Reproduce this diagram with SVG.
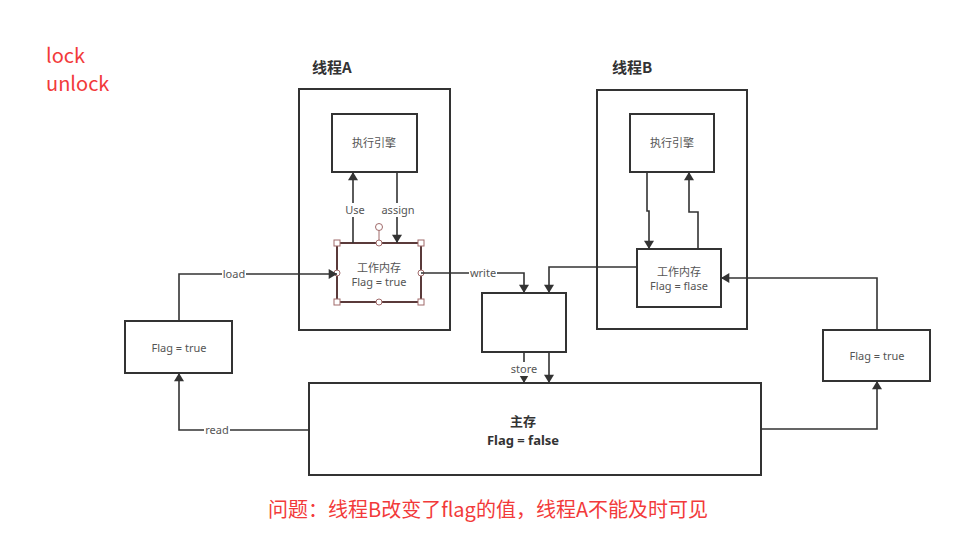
<svg xmlns="http://www.w3.org/2000/svg" width="980" height="552" viewBox="0 0 980 552">
<defs>
<marker id="ah" viewBox="0 0 10 12" refX="10" refY="6" markerWidth="11" markerHeight="10" markerUnits="userSpaceOnUse" orient="auto">
<path d="M0,0 L10,6 L0,12 z" fill="#333"/>
</marker>
</defs>
<style>
.box{fill:#fff;stroke:#333;stroke-width:2}
.ln{fill:none;stroke:#333;stroke-width:1.6}
.arr{fill:none;stroke:#333;stroke-width:1.6;marker-end:url(#ah)}
.t{font-family:"Noto Sans CJK SC","Noto Sans",sans-serif;font-size:11px;fill:#555;text-anchor:middle}
.lbl{font-family:"Noto Sans","Noto Sans CJK SC",sans-serif;font-size:11px;fill:#555;text-anchor:middle}
.title{font-family:"Noto Sans CJK SC",sans-serif;font-size:15px;font-weight:bold;fill:#333}
.red{font-family:"Noto Sans CJK SC",sans-serif;fill:#f23a3a}
.h{fill:#fff;stroke:#a06a6a;stroke-width:1}
</style>
<rect width="980" height="552" fill="#fff"/>
<text class="red" x="46" y="63" font-size="20">lock</text>
<text class="red" x="46" y="91" font-size="20">unlock</text>

<g id="threadA">
<text class="title" x="312" y="73">线程A</text>
<rect class="box" x="299" y="89" width="151" height="241"/>
</g>
<g id="engineA">
<rect class="box" x="332" y="114" width="85" height="58"/>
<text class="t" x="374" y="147">执行引擎</text>
</g>
<g id="wmA">
<rect x="337" y="243" width="84" height="59" fill="#fff" stroke="#5a3a3a" stroke-width="2"/>
<text class="t" x="379" y="272">工作内存</text>
<text class="lbl" x="379" y="286">Flag = true</text>
<line x1="379" y1="243" x2="379" y2="230" stroke="#a06a6a" stroke-width="1"/>
<circle class="h" cx="379" cy="227" r="3.5"/>
<rect class="h" x="334" y="240" width="6" height="6"/>
<rect class="h" x="418" y="240" width="6" height="6"/>
<rect class="h" x="334" y="299" width="6" height="6"/>
<rect class="h" x="418" y="299" width="6" height="6"/>
<circle class="h" cx="379" cy="243" r="3"/>
<circle class="h" cx="379" cy="302" r="3"/>
<circle class="h" cx="337" cy="273" r="3"/>
<circle class="h" cx="421" cy="273" r="3"/>
</g>

<g id="threadB">
<text class="title" x="612" y="73">线程B</text>
<rect class="box" x="597" y="90" width="150" height="239"/>
</g>
<g id="engineB">
<rect class="box" x="630" y="114" width="84" height="58"/>
<text class="t" x="672" y="147">执行引擎</text>
</g>
<g id="wmB">
<rect class="box" x="637" y="249" width="84" height="58"/>
<text class="t" x="679" y="276">工作内存</text>
<text class="lbl" x="679" y="290">Flag = flase</text>
</g>

<g id="flagLeft">
<rect class="box" x="125" y="321" width="107" height="52"/>
<text class="lbl" x="179" y="352">Flag = true</text>
</g>
<g id="flagRight">
<rect class="box" x="823" y="330" width="107" height="51"/>
<text class="lbl" x="877" y="360">Flag = true</text>
</g>
<g id="buffer">
<rect class="box" x="482" y="293" width="84" height="59"/>
</g>
<g id="mainMem">
<rect class="box" x="309" y="383" width="452" height="92"/>
<text x="523" y="426" font-family="Noto Sans CJK SC,sans-serif" font-size="13" font-weight="bold" fill="#333" text-anchor="middle">主存</text>
<text x="523" y="445" font-family="Noto Sans,sans-serif" font-size="13" font-weight="bold" fill="#333" text-anchor="middle">Flag = false</text>
</g>

<g id="connectors">
<path class="arr" d="M353,243 V172"/>
<rect x="344" y="203" width="20" height="14" fill="#fff"/>
<text class="lbl" x="355" y="214">Use</text>
<path class="arr" d="M397,172 V243"/>
<rect x="381" y="203" width="34" height="14" fill="#fff"/>
<text class="lbl" x="398" y="214">assign</text>

<path class="arr" d="M647,172 V211 H649 V249"/>
<path class="arr" d="M698,249 V212 H689 V172"/>

<path class="arr" d="M179,321 V274 H337"/>
<rect x="222" y="267" width="24" height="14" fill="#fff"/>
<text class="lbl" x="234" y="278">load</text>

<path class="arr" d="M309,430 H179 V373"/>
<rect x="204" y="423" width="26" height="14" fill="#fff"/>
<text class="lbl" x="217" y="434">read</text>

<path class="arr" d="M421,273 H524 V293"/>
<rect x="469" y="266" width="28" height="14" fill="#fff"/>
<text class="lbl" x="483" y="277">write</text>

<path class="arr" d="M637,267 H549 V293"/>

<path class="arr" d="M524,352 V383"/>
<rect x="509" y="362" width="30" height="14" fill="#fff"/>
<text class="lbl" x="524" y="373">store</text>
<path class="arr" d="M549,352 V383"/>

<path class="arr" d="M761,429 H877 V381"/>
<path class="arr" d="M877,330 V278 H721"/>
</g>

<text class="red" x="268" y="517" font-size="20">问题：线程B改变了flag的值，线程A不能及时可见</text>
</svg>
